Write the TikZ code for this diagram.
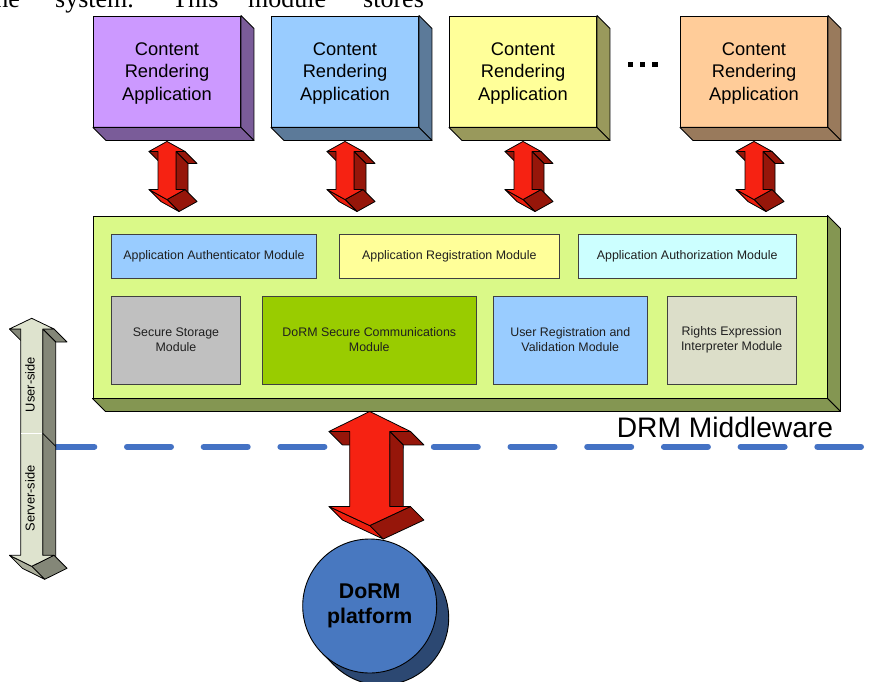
\documentclass[tikz,border=0pt]{standalone}
\usepackage{fontspec}
\setmainfont{Liberation Sans}
\newfontfamily\bodyserif{Liberation Serif}
\usetikzlibrary{calc}

% box faces
\definecolor{purplefront}{RGB}{204,153,255}
\definecolor{purpleside}{RGB}{122,92,153}
\definecolor{bluefront}{RGB}{153,204,255}
\definecolor{blueside}{RGB}{92,122,153}
\definecolor{yellowfront}{RGB}{255,255,153}
\definecolor{yellowside}{RGB}{153,153,92}
\definecolor{orangefront}{RGB}{255,204,153}
\definecolor{orangeside}{RGB}{153,122,92}
\definecolor{mwfront}{RGB}{218,249,136}
\definecolor{mwside}{RGB}{132,150,82}
% modules
\definecolor{modblue}{RGB}{153,204,255}
\definecolor{modyellow}{RGB}{255,255,153}
\definecolor{modcyan}{RGB}{204,255,255}
\definecolor{modgray}{RGB}{192,192,192}
\definecolor{modgreen}{RGB}{153,204,0}
\definecolor{modbeige}{RGB}{220,222,201}
% solid arrows
\definecolor{redfront}{RGB}{246,34,18}
\definecolor{redlit}{RGB}{236,30,14}
\definecolor{reddark}{RGB}{150,22,10}
\definecolor{grayfront}{RGB}{222,227,206}
\definecolor{graylit}{RGB}{172,175,156}
\definecolor{graydark}{RGB}{132,135,120}
% misc
\definecolor{splitline}{RGB}{68,114,196}
\definecolor{platfront}{RGB}{72,120,192}
\definecolor{platdark}{RGB}{44,72,114}

% side faces of an extruded box node: #1 node, #2 depth, #3 colour
\newcommand\boxdepth[3]{%
  \filldraw[fill=#3, line width=0.9pt, line join=round]
    (#1.north east) -- ++(#2,#2) -- ($(#1.south east)+(#2,#2)$) -- (#1.south east) -- cycle;
  \filldraw[fill=#3, line width=0.9pt, line join=round]
    (#1.south west) -- (#1.south east) -- ($(#1.south east)+(#2,#2)$) -- ($(#1.south west)+(#2,#2)$) -- cycle;
}

% extruded double-headed arrow
% #1 top tip, #2 bottom tip, #3 head half width, #4 shaft half width,
% #5 top head height, #6 bottom head height, #7 depth, #8 colour prefix
\newcommand\solidarrow[8]{%
  \path let \p1=(#1), \p2=(#2) in
    coordinate (aT)   at (\x1,\y1)
    coordinate (aHR)  at (\x1+#3pt,\y1-#5pt)
    coordinate (aNR)  at (\x1+#4pt,\y1-#5pt)
    coordinate (aNL)  at (\x1-#4pt,\y1-#5pt)
    coordinate (aHL)  at (\x1-#3pt,\y1-#5pt)
    coordinate (aB)   at (\x2,\y2)
    coordinate (aHRb) at (\x2+#3pt,\y2+#6pt)
    coordinate (aNRb) at (\x2+#4pt,\y2+#6pt)
    coordinate (aNLb) at (\x2-#4pt,\y2+#6pt)
    coordinate (aHLb) at (\x2-#3pt,\y2+#6pt);
  \begin{scope}[line width=0.8pt, line join=round]
    \filldraw[fill=#8dark] (aHL) -- (aNL) -- ($(aNL)+(#7,#7)$) -- ($(aHL)+(#7,#7)$) -- cycle;
    \filldraw[fill=#8dark] (aNR) -- (aHR) -- ($(aHR)+(#7,#7)$) -- ($(aNR)+(#7,#7)$) -- cycle;
    \filldraw[fill=#8dark] (aNR) -- (aNRb) -- ($(aNRb)+(#7,#7)$) -- ($(aNR)+(#7,#7)$) -- cycle;
    \filldraw[fill=#8dark] (aHRb) -- (aB) -- ($(aB)+(#7,#7)$) -- ($(aHRb)+(#7,#7)$) -- cycle;
    \filldraw[fill=#8lit]  (aB) -- (aHLb) -- ($(aHLb)+(#7,#7)$) -- ($(aB)+(#7,#7)$) -- cycle;
    \filldraw[fill=#8front] (aT) -- (aHR) -- (aNR) -- (aNRb) -- (aHRb) -- (aB)
      -- (aHLb) -- (aNLb) -- (aNL) -- (aHL) -- cycle;
  \end{scope}
}

% three-line label of an application box, set a little below centre
\newcommand\applabel{\raisebox{0pt}[\dimexpr\height+4pt\relax]{\begin{tabular}{@{}c@{}}Content\\Rendering\\Application\end{tabular}}}

\begin{document}
\begin{tikzpicture}[x=1pt, y=-1pt,
  appbox/.style={draw=black, line width=0.9pt, minimum width=147pt,
    minimum height=111pt, inner sep=0pt,
    font=\fontsize{18.3}{22.5}\selectfont},
  module/.style={draw=black!75, line width=0.75pt, inner sep=0pt,
    align=center, text=black!88, font=\fontsize{12.4}{15}\selectfont},
  bodyword/.style={anchor=base west, inner sep=0pt,
    font=\bodyserif\fontsize{26}{30}\selectfont},
  sidelabel/.style={rotate=90, inner sep=0pt, font=\fontsize{12.9}{15}\selectfont}]

\useasboundingbox (0,0) rectangle (888,682);

% running text above the figure
\node[bodyword, anchor=base east] (w1) at (20,8) {the};
\node[bodyword] (w2) at (55,8) {system.};
\node[bodyword] (w3) at (172,8) {This};
\node[bodyword] (w4) at (248,8) {module};
\node[bodyword] (w5) at (363,8) {stores};

% user-side / server-side boundary
\coordinate (splitA) at (50.3,446.7);
\coordinate (splitB) at (861,446.7);
\draw[splitline, line width=6pt, line cap=round, dash pattern=on 44pt off 32.7pt]
  (splitA) -- (splitB);

% content rendering applications
\node[appbox, fill=purplefront] (app1) at (167,71.5) {\applabel};
\node[appbox, fill=bluefront]   (app2) at (345,71.5) {\applabel};
\node[appbox, fill=yellowfront] (app3) at (523,71.5) {\applabel};
\node[appbox, fill=orangefront] (app4) at (754,71.5) {\applabel};
\boxdepth{app1}{13}{purpleside}
\boxdepth{app2}{13}{blueside}
\boxdepth{app3}{13}{yellowside}
\boxdepth{app4}{13}{orangeside}

% ellipsis between the applications
\fill (627.5,62) rectangle ++(5.5,5.5);
\fill (639.5,62) rectangle ++(5.5,5.5);
\fill (652,62) rectangle ++(5.5,5.5);

% middleware block
\node[draw=black, line width=0.9pt, fill=mwfront, minimum width=734pt,
  minimum height=182pt, inner sep=0pt] (mw) at (460,307) {};
\boxdepth{mw}{13}{mwside}

\node[module, fill=modblue,   minimum width=205.4pt, minimum height=44.3pt] (authn) at (214,256.2) {Application Authenticator Module};
\node[module, fill=modyellow, minimum width=220pt,   minimum height=44.3pt] (areg)  at (449.3,256.2) {Application Registration Module};
\node[module, fill=modcyan,   minimum width=217.7pt, minimum height=44.3pt] (authz) at (687.2,256.2) {Application Authorization Module};

\node[module, fill=modgray,  minimum width=129.4pt, minimum height=88pt] (store) at (176,340) {Secure Storage\\Module};
\node[module, fill=modgreen, minimum width=213.3pt, minimum height=88pt] (comm)  at (369.3,340) {DoRM Secure Communications\\Module};
\node[module, fill=modblue,  minimum width=154pt,   minimum height=88pt] (ureg)  at (570.3,340) {User Registration and\\Validation Module};
\node[module, fill=modbeige, minimum width=128.7pt, minimum height=88pt] (rexp)  at (731.7,340) {Rights Expression\\Interpreter Module};

\node[anchor=base east, inner sep=0pt, font=\fontsize{28.2}{32}\selectfont] (mwlabel)
  at (833.3,437.3) {DRM Middleware};

% arrows between the applications and the middleware
\foreach \a in {app1,app2,app3,app4}{
  \solidarrow{$(\a.south)+(0,14)$}{$(\a.south |- mw.north)+(0,-16)$}{18}{9}{10}{10}{12}{red}
}

% DoRM platform (extruded disc)
\coordinate (platc) at (369.7,606);
\filldraw[fill=platdark, line width=0.9pt] ($(platc)+(12,12)$) circle[radius=67pt];
\fill[platdark] ($(platc)+(45:67pt)$) -- ($(platc)+(45:67pt)+(12,12)$)
  -- ($(platc)+(225:67pt)+(12,12)$) -- ($(platc)+(225:67pt)$) -- cycle;
\draw[line width=0.9pt] ($(platc)+(45:67pt)$) -- ++(12,12);
\draw[line width=0.9pt] ($(platc)+(225:67pt)$) -- ++(12,12);
\node[circle, draw=black, line width=0.9pt, fill=platfront, minimum size=134pt,
  inner sep=0pt, align=center, font=\bfseries\fontsize{21.3}{25}\selectfont]
  (plat) at (platc) {DoRM\\platform};

% middleware <-> platform
\solidarrow{$(plat.north |- mw.south)+(0,13)$}{$(plat.north)+(0,-13)$}{40.7}{20}{20}{19}{13.5}{red}

% user-side / server-side marker
\coordinate (usertip) at (31.7,318.3);
\coordinate (servertip) at (31.7,566.3);
\solidarrow{usertip}{servertip}{22.3}{11}{10.7}{11}{13}{gray}
\coordinate (seam) at (31.7,433.3);
\draw[white, line width=0.8pt] ($(seam)+(-10.6,0)$) -- ($(seam)+(10.6,0)$);
\draw[line width=0.7pt] ($(seam)+(11,0)$) -- ++(13,13);
\node[sidelabel] (ulabel) at (30,384.5) {User-side};
\node[sidelabel] (slabel) at (30,498.5) {Server-side};

\end{tikzpicture}
\end{document}
